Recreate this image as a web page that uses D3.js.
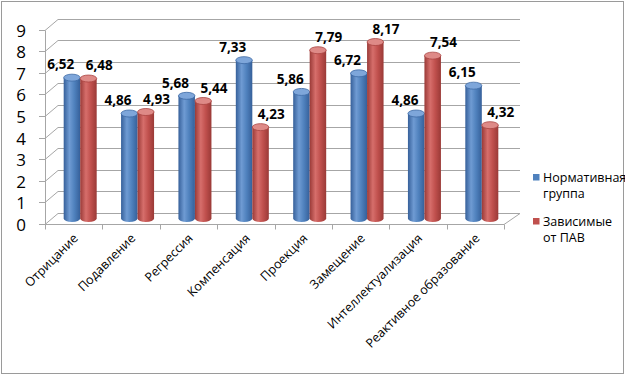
<!DOCTYPE html>
<html>
<head>
<meta charset="utf-8">
<script src="https://cdn.jsdelivr.net/npm/d3@7"></script>
<style>
  html, body { margin: 0; padding: 0; background: #fff; }
  svg text { font-family: "Open Sans", "Noto Sans", sans-serif; }
</style>
</head>
<body>
<div id="chart"></div>
<script>
var categories = ['Отрицание', 'Подавление', 'Регрессия', 'Компенсация', 'Проекция', 'Замещение', 'Интеллектуализация', 'Реактивное образование'];
var seriesNames = ['Нормативная группа', 'Зависимые от ПАВ'];
var normValues = [6.52, 4.86, 5.68, 7.33, 5.86, 6.72, 4.86, 6.15];
var pavValues = [6.48, 4.93, 5.44, 4.23, 7.79, 8.17, 7.54, 4.32];
var yTicks = [0, 1, 2, 3, 4, 5, 6, 7, 8, 9];
var legendLines = [['Нормативная', 'группа'], ['Зависимые', 'от ПАВ']];

var width = 625, height = 376;
// смещение глубины (передняя стенка -> задняя)
var depth = { dx: 13, dy: -11 };
var colors = [
    { dark: '#36609a', mid: '#4f81bd', light: '#6f9bd3', top: '#7ea6da', rim: '#3d6aa5' },
    { dark: '#9a3a37', mid: '#c0504d', light: '#d66e6b', top: '#de8a87', rim: '#a94441' }
];

var svg = d3.select('#chart')
    .append('svg')
    .attr('width', width)
    .attr('height', height);

svg.append('rect')
    .attr('x', 1.5).attr('y', 1.5)
    .attr('width', width - 3).attr('height', height - 4)
    .attr('fill', '#fff')
    .attr('stroke', '#9a9a9a');

var x = d3.scaleBand()
    .domain(categories)
    .range([45, 504]);

var y = d3.scaleLinear()
    .domain([0, 9])
    .range([224, 29.6]);

var inner = d3.scaleBand()
    .domain([0, 1])
    .range([-16.5, 16.5]);

// градиенты для цилиндров
var defs = svg.append('defs');
colors.forEach(function (c, i) {
    var g = defs.append('linearGradient')
        .attr('id', 'cyl' + i)
        .attr('x1', '0%').attr('x2', '100%')
        .attr('y1', '0%').attr('y2', '0%');
    g.append('stop').attr('offset', '0%').attr('stop-color', c.dark);
    g.append('stop').attr('offset', '35%').attr('stop-color', c.light);
    g.append('stop').attr('offset', '65%').attr('stop-color', c.mid);
    g.append('stop').attr('offset', '100%').attr('stop-color', c.dark);
});

// стены и сетка
var grid = svg.append('g')
    .attr('stroke', '#a6a6a6')
    .attr('stroke-width', 1)
    .attr('fill', 'none');

yTicks.forEach(function (t) {
    var yf = Math.round(y(t)) + 0.5;
    var yb = yf + depth.dy;
    grid.append('line')
        .attr('x1', 45 + depth.dx).attr('x2', 504 + depth.dx + 3)
        .attr('y1', yb).attr('y2', yb);
    grid.append('line')
        .attr('x1', 45).attr('y1', yf)
        .attr('x2', 45 + depth.dx).attr('y2', yb);
    // засечки оси Y
    grid.append('line')
        .attr('x1', 39).attr('x2', 45)
        .attr('y1', yf).attr('y2', yf);
});

grid.append('line')
    .attr('x1', 45.5).attr('x2', 45.5)
    .attr('y1', Math.round(y(9)) + 0.5).attr('y2', Math.round(y(0)) + 0.5);

// пол
var y0 = Math.round(y(0)) + 0.5;
grid.append('path')
    .attr('d', 'M45,' + y0 + 'L504,' + y0 + 'L' + (504 + depth.dx + 3) + ',' + (y0 + depth.dy));
grid.append('line')
    .attr('x1', 504 + depth.dx + 3).attr('y1', y0 + depth.dy)
    .attr('x2', 504 + depth.dx + 3).attr('y2', y0 + depth.dy);

categories.concat(['']).forEach(function (c, i) {
    var xx = Math.round(45 + i * x.step()) + 0.5;
    grid.append('line')
        .attr('x1', xx).attr('x2', xx)
        .attr('y1', y0).attr('y2', y0 + 5);
});

// подписи оси Y
svg.append('g')
    .selectAll('text')
    .data(yTicks)
    .enter()
    .append('text')
    .attr('x', 26)
    .attr('y', function (d) { return y(d) + 1; })
    .attr('dy', '0.35em')
    .attr('text-anchor', 'end')
    .style('font-size', '17px')
    .attr('fill', '#000')
    .text(function (d) { return d; });

// цилиндры
var series = [normValues, pavValues];
var rx = inner.bandwidth() / 2;
var ry = 3.5;
var midShift = depth.dx / 2;
var midDrop = depth.dy / 2;

series.forEach(function (vals, s) {
    var g = svg.append('g').attr('class', 'series-' + s);
    vals.forEach(function (v, i) {
        var cx = x(categories[i]) + x.bandwidth() / 2 + midShift + inner(s) + rx;
        var yb = y(0) + midDrop;
        var yt = y(v) + midDrop;
        g.append('path')
            .attr('d', 'M' + (cx - rx) + ',' + yt +
                'L' + (cx - rx) + ',' + yb +
                'A' + rx + ',' + ry + ' 0 0 0 ' + (cx + rx) + ',' + yb +
                'L' + (cx + rx) + ',' + yt + 'Z')
            .attr('fill', 'url(#cyl' + s + ')');
        g.append('ellipse')
            .attr('cx', cx).attr('cy', yt)
            .attr('rx', rx).attr('ry', ry)
            .attr('fill', colors[s].top)
            .attr('stroke', colors[s].rim)
            .attr('stroke-width', 0.8);
    });
});

// подписи значений
series.forEach(function (vals, s) {
    svg.append('g')
        .selectAll('text')
        .data(vals)
        .enter()
        .append('text')
        .attr('x', function (d, i) {
            return x(categories[i]) + x.bandwidth() / 2 + midShift + (s === 0 ? -19.5 : 19);
        })
        .attr('y', function (d) { return y(d) + midDrop - 13; })
        .attr('dy', '0.35em')
        .attr('text-anchor', 'middle')
        .style('font-size', '13.5px')
        .style('font-weight', 'bold')
        .attr('fill', '#000')
        .text(function (d) { return d.toFixed(2).replace('.', ','); });
});

// подписи категорий
svg.append('g')
    .selectAll('text')
    .data(categories)
    .enter()
    .append('text')
    .attr('transform', function (d) {
        return 'translate(' + (x(d) + x.bandwidth() / 2 + 2) + ',236) rotate(-45)';
    })
    .attr('dy', '0.35em')
    .attr('text-anchor', 'end')
    .style('font-size', '12.5px')
    .attr('fill', '#000')
    .text(function (d) { return d; });

// легенда
var legend = svg.append('g')
    .selectAll('g')
    .data(seriesNames)
    .enter()
    .append('g')
    .attr('transform', function (d, i) { return 'translate(533,' + (174 + i * 44) + ')'; });

legend.append('rect')
    .attr('width', 6.5).attr('height', 6.5)
    .attr('fill', function (d, i) { return colors[i].mid; });

legend.each(function (d, i) {
    var t = d3.select(this).append('text')
        .attr('x', 10)
        .attr('y', 8)
        .style('font-size', '12.5px')
        .attr('fill', '#000');
    legendLines[i].forEach(function (line, k) {
        t.append('tspan')
            .attr('x', 10)
            .attr('dy', k === 0 ? 0 : 15.5)
            .text(line);
    });
});
</script>
</body>
</html>
